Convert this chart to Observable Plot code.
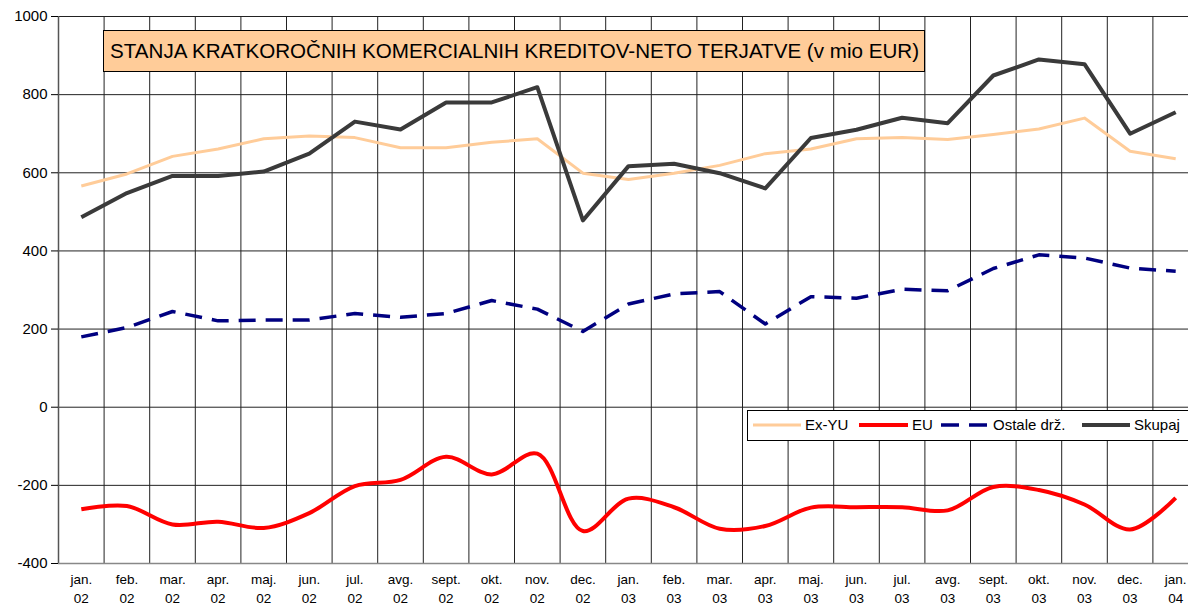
<!DOCTYPE html>
<html>
<head>
<meta charset="utf-8">
<script src="https://cdn.jsdelivr.net/npm/d3@7"></script>
<script src="https://cdn.jsdelivr.net/npm/@observablehq/plot@0.6"></script>
<style>
html, body { margin: 0; padding: 0; background: #fff; overflow: hidden; }
#wrap { position: relative; width: 1188px; height: 607px; overflow: hidden; font-family: "Liberation Sans", Arial, sans-serif; }
#chart svg { max-width: none !important; }
#title { position: absolute; left: 103px; top: 30px; width: 822px; height: 42px; background: #FFCC99; border: 1px solid #000; box-sizing: border-box; font-size: 20.6px; line-height: 40px; padding-left: 6px; white-space: nowrap; color: #000; }
#legend { position: absolute; left: 747px; top: 410px; width: 470px; height: 31px; background: #fff; border: 1px solid #000; box-sizing: border-box; font-size: 15px; color: #000; }
#legend .sw { position: absolute; top: 9px; }
#legend .tx { position: absolute; top: 5px; line-height: 18px; white-space: nowrap; }
</style>
</head>
<body>
<div id="wrap">
  <div id="chart"></div>
  <div id="title"></div>
  <div id="legend"></div>
</div>
<script>
const months = ["jan.","feb.","mar.","apr.","maj.","jun.","jul.","avg.","sept.","okt.","nov.","dec.",
                "jan.","feb.","mar.","apr.","maj.","jun.","jul.","avg.","sept.","okt.","nov.","dec.","jan."];
const years = ["02","02","02","02","02","02","02","02","02","02","02","02",
               "03","03","03","03","03","03","03","03","03","03","03","03","04"];
const exYU   = [566,597,642,661,687,694,690,664,664,678,687,599,583,599,619,649,661,687,690,685,698,712,740,655,636];
const eu     = [-261,-253,-300,-293,-309,-271,-202,-186,-127,-172,-119,-317,-234,-256,-311,-304,-257,-256,-256,-264,-204,-212,-249,-313,-232];
const ostale = [180,204,245,221,223,223,240,230,240,273,251,194,264,290,296,213,283,279,302,298,355,390,382,356,348];
const skupaj = [486,548,592,592,603,649,731,711,780,780,819,478,617,623,599,560,689,710,741,727,849,890,878,700,755];
const yTicks = [-400,-200,0,200,400,600,800,1000];
const seriesNames = ["Ex-YU","EU","Ostale drž.","Skupaj"];
const titleText = "STANJA KRATKOROČNIH KOMERCIALNIH KREDITOV-NETO TERJATVE (v mio EUR)";

const idx = d3.range(months.length);
const boundaries = idx.map(i => i + 0.5);

const styles = [
  {values: exYU,   stroke: "#FFCC99", strokeWidth: 3},
  {values: eu,     stroke: "#FF0000", strokeWidth: 4, curve: "catmull-rom"},
  {values: ostale, stroke: "#000080", strokeWidth: 3.5, strokeDasharray: "17,10"},
  {values: skupaj, stroke: "#3a3a3a", strokeWidth: 4}
];

const plot = Plot.plot({
  width: 1200,
  height: 607,
  marginLeft: 58,
  marginRight: 2,
  marginTop: 16,
  marginBottom: 44,
  style: {fontFamily: "'Liberation Sans', Arial, sans-serif", fontSize: "15px", color: "#000", background: "#fff", maxWidth: "none"},
  x: {domain: [-0.5, 24.5], axis: null},
  y: {domain: [-400, 1000], axis: null},
  marks: [
    Plot.ruleY(yTicks.filter(v => v > -400), {stroke: "#222", strokeWidth: 1}),
    Plot.ruleX(boundaries, {y1: -400, y2: 1000, stroke: "#222", strokeWidth: 1}),
    Plot.ruleX([-0.5], {y1: -400, y2: 1000, stroke: "#555", strokeWidth: 1.5}),
    Plot.ruleY([-400], {stroke: "#888", strokeWidth: 1.5}),
    ...styles.map(s => Plot.line(idx, {
      x: i => i, y: i => s.values[i],
      stroke: s.stroke, strokeWidth: s.strokeWidth,
      strokeDasharray: s.strokeDasharray, curve: s.curve || "linear",
      strokeLinejoin: "round", strokeLinecap: "butt"
    })),
    Plot.axisY(yTicks, {tickSize: 7, tickPadding: 4, fontSize: 15, stroke: "#000", tickFormat: d => String(d)}),
    Plot.text(idx, {
      x: i => i, y: () => -400,
      text: i => months[i] + "\n" + years[i],
      dy: 24, lineHeight: 1.42, fontSize: 13.5, fill: "#000"
    })
  ]
});
document.getElementById("chart").appendChild(plot);

document.getElementById("title").textContent = titleText;

// legend
const legend = document.getElementById("legend");
const layout = [
  {sw: 5, w: 48, tx: 57},
  {sw: 111, w: 49, tx: 164},
  {sw: 193, w: 46, tx: 245},
  {sw: 334, w: 48, tx: 386}
];
styles.forEach((s, k) => {
  const L = layout[k];
  const ns = "http://www.w3.org/2000/svg";
  const svg = document.createElementNS(ns, "svg");
  svg.setAttribute("class", "sw");
  svg.setAttribute("width", L.w);
  svg.setAttribute("height", 10);
  svg.style.left = L.sw + "px";
  const ln = document.createElementNS(ns, "line");
  ln.setAttribute("x1", 0); ln.setAttribute("x2", L.w);
  ln.setAttribute("y1", 5); ln.setAttribute("y2", 5);
  ln.setAttribute("stroke", s.stroke);
  ln.setAttribute("stroke-width", s.strokeWidth);
  if (s.strokeDasharray) ln.setAttribute("stroke-dasharray", "18,10");
  svg.appendChild(ln);
  legend.appendChild(svg);
  const t = document.createElement("div");
  t.className = "tx";
  t.style.left = L.tx + "px";
  t.textContent = seriesNames[k];
  legend.appendChild(t);
});
</script>
</body>
</html>
